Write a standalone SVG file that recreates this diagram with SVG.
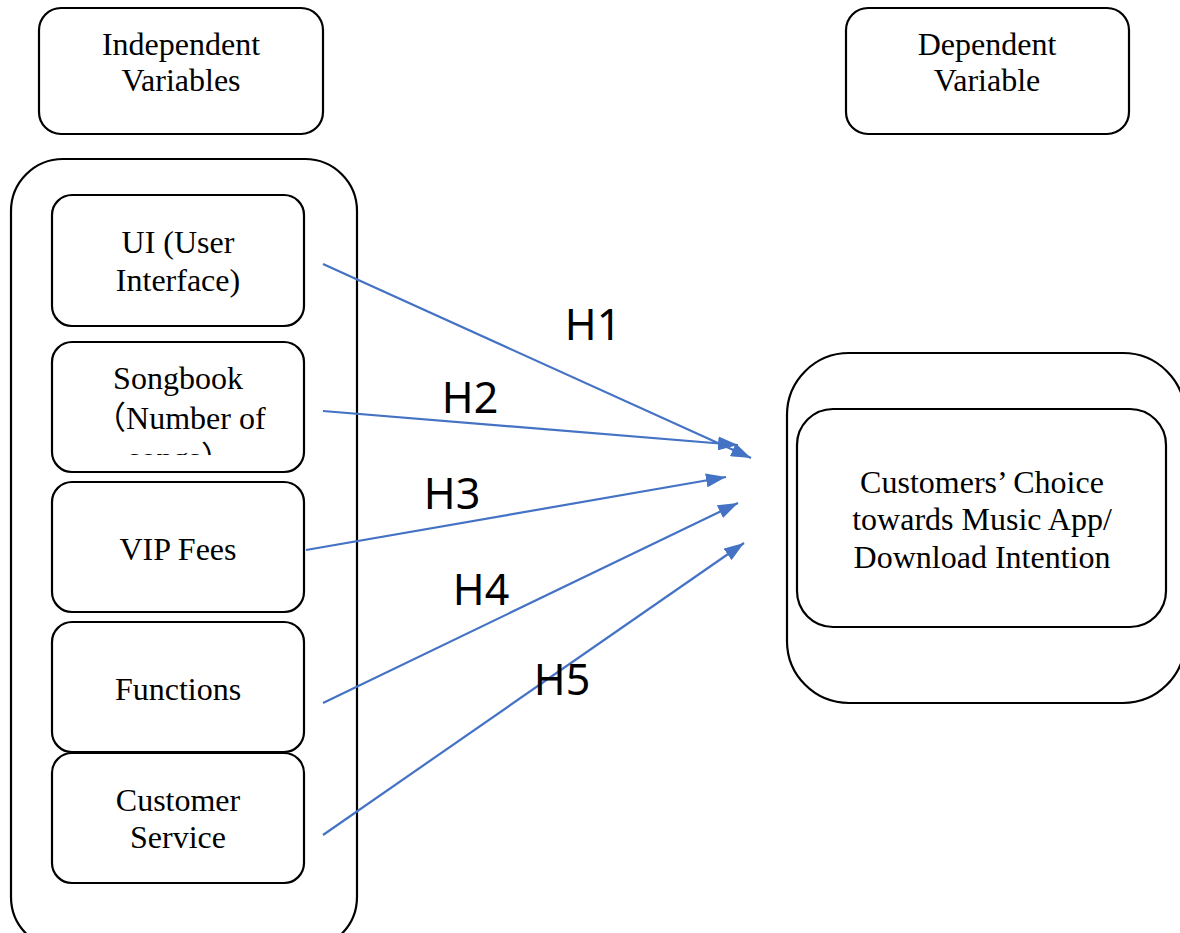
<svg xmlns="http://www.w3.org/2000/svg" width="1180" height="933" viewBox="0 0 1180 933">
<style>
.box{fill:#fff;stroke:#000;stroke-width:2.2}
.t{font-family:"Liberation Serif","Times New Roman",serif;font-size:32px;fill:#000;text-anchor:middle}
.s{text-anchor:start}
.cjk{font-family:"Noto Sans CJK SC",sans-serif}
.h{font-family:"Noto Sans","Liberation Sans",sans-serif;font-size:43px;fill:#000;text-anchor:middle}
.c{stroke:#4472C4;stroke-width:2.2;fill:none}
</style>
<defs>
<marker id="ah" viewBox="0 0 20 14" refX="20" refY="7" markerWidth="20" markerHeight="14" markerUnits="userSpaceOnUse" orient="auto">
<path d="M0,0 L20,7 L0,14 z" fill="#4472C4"/>
</marker>
<clipPath id="sbclip"><rect x="52" y="342" width="252" height="113"/></clipPath>
</defs>
<rect width="1180" height="933" fill="#fff"/>
<g id="indep-label">
<rect class="box" x="39" y="8" width="284" height="126" rx="22"/>
<text class="t" x="181" y="55">Independent</text>
<text class="t" x="181" y="91">Variables</text>
</g>
<g id="dep-label">
<rect class="box" x="846" y="8" width="283" height="126" rx="22"/>
<text class="t" x="987" y="55">Dependent</text>
<text class="t" x="987" y="91">Variable</text>
</g>
<g id="left-container">
<rect class="box" x="11" y="159" width="346" height="790" rx="52"/>
</g>
<g id="ui">
<rect class="box" x="52" y="195" width="252" height="131" rx="20"/>
<text class="t" x="178" y="253">UI (User</text>
<text class="t" x="178" y="291">Interface)</text>
</g>
<g id="songbook">
<rect class="box" x="52" y="342" width="252" height="130" rx="20"/>
<g clip-path="url(#sbclip)">
<text class="t" x="178" y="389">Songbook</text>
<text class="t s" x="94" y="429"><tspan class="cjk">（</tspan>Number of</text>
<text class="t s" x="128" y="469">songs<tspan class="cjk">）</tspan></text>
</g>
</g>
<g id="vip">
<rect class="box" x="52" y="482" width="252" height="130" rx="20"/>
<text class="t" x="178" y="560">VIP Fees</text>
</g>
<g id="functions">
<rect class="box" x="52" y="622" width="252" height="130" rx="20"/>
<text class="t" x="178" y="700">Functions</text>
</g>
<g id="service">
<rect class="box" x="52" y="753" width="252" height="130" rx="20"/>
<text class="t" x="178" y="811">Customer</text>
<text class="t" x="178" y="848">Service</text>
</g>
<g id="right-container">
<rect class="box" x="787" y="353" width="398" height="350" rx="62"/>
</g>
<g id="choice">
<rect class="box" x="797" y="409" width="369" height="218" rx="36"/>
<text class="t" x="982" y="493">Customers’ Choice</text>
<text class="t" x="982" y="530">towards Music App/</text>
<text class="t" x="982" y="568">Download Intention</text>
</g>
<g id="connectors">
<line class="c" x1="323" y1="264" x2="751" y2="458" marker-end="url(#ah)"/>
<line class="c" x1="323" y1="411" x2="738" y2="445" marker-end="url(#ah)"/>
<line class="c" x1="306" y1="550" x2="726" y2="477" marker-end="url(#ah)"/>
<line class="c" x1="323" y1="703" x2="738" y2="503" marker-end="url(#ah)"/>
<line class="c" x1="323" y1="835" x2="744" y2="543" marker-end="url(#ah)"/>
</g>
<g id="labels">
<text class="h" x="593" y="340">H1</text>
<text class="h" x="470" y="413">H2</text>
<text class="h" x="452" y="509">H3</text>
<text class="h" x="481" y="605">H4</text>
<text class="h" x="562" y="695">H5</text>
</g>
</svg>
